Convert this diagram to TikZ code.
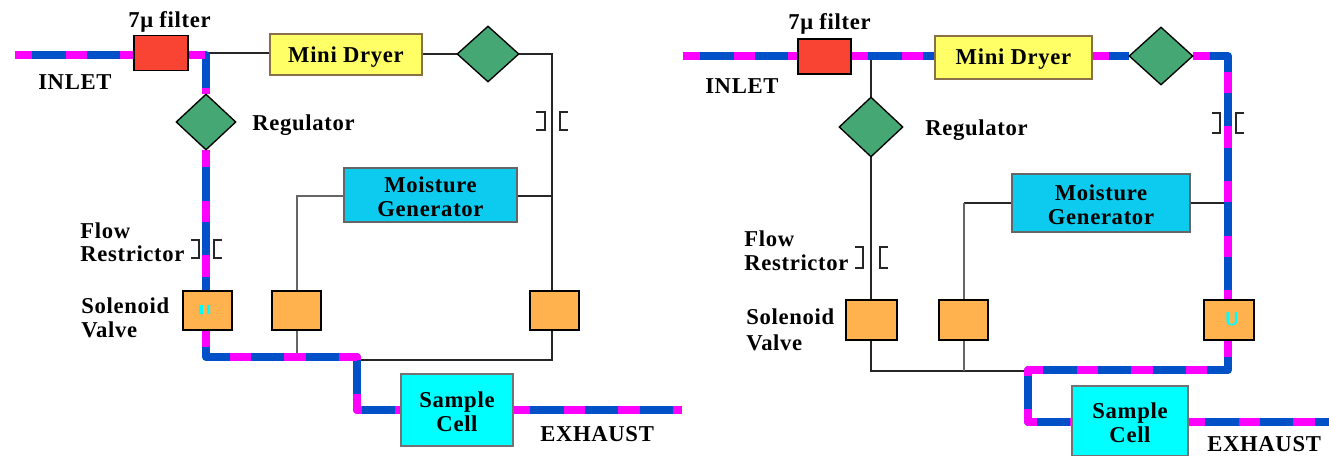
\documentclass[tikz,border=0pt]{standalone}
\usepackage{fontspec}
\setmainfont[LetterSpace=3]{Liberation Serif}
\usetikzlibrary{shapes.geometric,calc}
\definecolor{pipeblue}{HTML}{0050C8}
\definecolor{pipepink}{HTML}{FF00FF}
\definecolor{filterred}{HTML}{F94433}
\definecolor{dryeryellow}{HTML}{FFFF66}
\definecolor{dryeredge}{HTML}{8A7048}
\definecolor{valvegreen}{HTML}{45A874}
\definecolor{valveorange}{HTML}{FFB24D}
\definecolor{genblue}{HTML}{0CCBEE}
\definecolor{cellcyan}{HTML}{00FFFF}
\newcommand\lowr[1]{\raisebox{-1.5pt}[\height][\depth]{#1}}
\tikzset{
  x=0.75pt,y=-0.75pt,
  box/.style 2 args={draw=black,line width=1.1pt,minimum width=#1*0.75pt,minimum height=#2*0.75pt,inner sep=0pt,align=center,font=\fontsize{17}{18}\selectfont\bfseries},
  filterbox/.style={box={54}{35},fill=filterred},
  dryerbox/.style 2 args={box={#1}{#2},fill=dryeryellow,draw=dryeredge,line width=1.5pt},
  genbox/.style 2 args={box={#1}{#2},fill=genblue,draw=black!60,line width=0.9pt},
  cellbox/.style 2 args={box={#1}{#2},fill=cellcyan,draw=black!55,line width=0.9pt},
  valvebox/.style 2 args={box={#1}{#2},fill=valveorange},
  gem/.style 2 args={diamond,aspect=1,draw=black,line width=1pt,fill=valvegreen,inner sep=0pt,minimum width=#1*0.75pt,minimum height=#2*0.75pt},
  lab/.style={inner sep=0pt,anchor=base west,font=\fontsize{17}{18}\selectfont\bfseries},
  pipe/.style={preaction={draw=pipeblue,line width=6pt,line join=round},draw=pipepink,line width=6pt,line join=round,dash pattern=on 16pt off 25pt,dash phase=3pt},
  wire/.style={draw=black!85,line width=1.1pt},
  greywire/.style={draw=black!60,line width=1.1pt},
  brk/.style={draw=black!85,line width=1.7pt}
}
\begin{document}
\begin{tikzpicture}
\useasboundingbox (0,0) rectangle (1329,456);
% ---------- LEFT PANEL ----------
\coordinate (lin) at (15,55);
\coordinate (lc1) at (206,55);
\coordinate (lt1) at (206,53);
\coordinate (lc2) at (552,54);
\coordinate (lc3) at (552,360);
\coordinate (lc4) at (206,357);
\coordinate (lc5) at (357,357);
\coordinate (lc6) at (357,410);
\coordinate (lout) at (682,410);
\coordinate (lc7) at (552,196);
\coordinate (lc8) at (297,196);
\coordinate (lc9) at (297,357);
\coordinate (lc10) at (357,360);
\draw[wire] (lt1) -- (270,53);
\draw[wire] (422,54) -- (lc2) -- (552,291);
\draw[wire] (552,330) -- (lc3) -- (lc10);
\draw[wire] (517,196) -- (lc7);
\draw[greywire] (344,196) -- (lc8) -- (297,291);
\draw[greywire] (297,330) -- (lc9);
\draw[pipe] (lin) -- (134,55);
\draw[pipe] (188,55) -- (lc1) -- (206,94);
\draw[pipe] (206,150) -- (206,291);
\draw[pipe] (206,330) -- (lc4) -- (lc5) -- (lc6) -- (401,410);
\draw[pipe] (513,410) -- (lout);
\node[filterbox] (lfilter) at (161,53) {};
\node[dryerbox={152}{41}] (ldryer) at (346,55) {\lowr{Mini Dryer}};
\node[gem={62}{56}] (ld1) at (488,54) {};
\node[gem={60}{56}] (lreg) at (206,122) {};
\node[genbox={173}{54}] (lgen) at (430.5,195) {\lowr{Moisture}\\\lowr{Generator}};
\node[valvebox={49}{39}] (lv1) at (207.5,310.5) {};
\node[valvebox={49}{39}] (lv2) at (296.5,310.5) {};
\node[valvebox={49}{39}] (lv3) at (554.5,310.5) {};
\node[cellbox={112}{72}] (lcell) at (457,410) {\lowr{Sample}\\\lowr{Cell}};
\fill[cellcyan] (199,305) rectangle (203,314) (207,305) rectangle (210,314);
\draw[brk] (191,240) -- (199,240) -- (199,258) -- (191,258);
\draw[brk] (222,240) -- (214,240) -- (214,258) -- (222,258);
\draw[brk] (536,112) -- (545,112) -- (545,130) -- (536,130);
\draw[brk] (568,112) -- (560,112) -- (560,130) -- (568,130);
\node[lab] (lt7) at (128,28) {7μ filter};
\node[lab] (ltin) at (38,90) {INLET};
\node[lab] (ltreg) at (252,131) {Regulator};
\node[lab] (ltfl) at (80,239) {Flow};
\node[lab] (ltre) at (80,262) {Restrictor};
\node[lab] (ltso) at (81,313) {Solenoid};
\node[lab] (ltva) at (81,337) {Valve};
\node[lab] (ltex) at (540,441) {EXHAUST};
% ---------- RIGHT PANEL ----------
\coordinate (rin) at (683,56);
\coordinate (rc1) at (1228,56);
\coordinate (rc2) at (1228,370);
\coordinate (rc3) at (1028,370);
\coordinate (rc4) at (1028,422);
\coordinate (rout) at (1329,422);
\coordinate (rc5) at (871,56);
\coordinate (rc6) at (871,371);
\coordinate (rc7) at (1028,371);
\coordinate (rc8) at (964,203);
\coordinate (rc9) at (964,371);
\coordinate (rc10) at (1228,203);
\draw[wire] (rc5) -- (871,97);
\draw[wire] (871,157) -- (871,300);
\draw[wire] (871,340) -- (rc6) -- (rc7);
\draw[wire] (1190,203) -- (rc10);
\draw[wire] (1012,203) -- (rc8);
\draw[greywire] (rc8) -- (964,300);
\draw[greywire] (964,340) -- (rc9);
\draw[pipe] (rin) -- (798,56);
\draw[pipe] (851,56) -- (935,56);
\draw[pipe] (1092,56) -- (1129,56);
\draw[pipe] (1193,56) -- (rc1) -- (1228,300);
\draw[pipe] (1228,340) -- (rc2) -- (rc3) -- (rc4) -- (1072,422);
\draw[pipe] (1188,422) -- (rout);
\node[filterbox,minimum width=40pt] (rfilter) at (824.5,56.5) {};
\node[dryerbox={157}{43}] (rdryer) at (1013.5,57.5) {\lowr{Mini Dryer}};
\node[gem={64}{58}] (rd1) at (1161,56) {};
\node[gem={64}{60}] (rreg) at (871,127) {};
\node[genbox={178}{58}] (rgen) at (1101,203) {\lowr{Moisture}\\\lowr{Generator}};
\node[valvebox={51}{40}] (rv1) at (871.5,320) {};
\node[valvebox={49}{40}] (rv2) at (963.5,320) {};
\node[valvebox={50}{40}] (rv3) at (1229,320) {};
\node[cellbox={116}{70}] (rcell) at (1130,421) {\lowr{Sample}\\\lowr{Cell}};
\node[inner sep=0pt,text=cellcyan,font=\fontsize{14}{15}\selectfont\bfseries\sffamily] (ru) at (1232,319) {U};
\draw[brk] (855,247) -- (863,247) -- (863,268) -- (855,268);
\draw[brk] (888,247) -- (880,247) -- (880,268) -- (888,268);
\draw[brk] (1212,113) -- (1220,113) -- (1220,133) -- (1212,133);
\draw[brk] (1244,113) -- (1236,113) -- (1236,133) -- (1244,133);
\node[lab] (rt7) at (788,30) {7μ filter};
\node[lab] (rtin) at (705,94) {INLET};
\node[lab] (rtreg) at (925,136) {Regulator};
\node[lab] (rtfl) at (744,247) {Flow};
\node[lab] (rtre) at (744,271) {Restrictor};
\node[lab] (rtso) at (746,325) {Solenoid};
\node[lab] (rtva) at (746,350) {Valve};
\node[lab] (rtex) at (1207,451) {EXHAUST};
\end{tikzpicture}
\end{document}
